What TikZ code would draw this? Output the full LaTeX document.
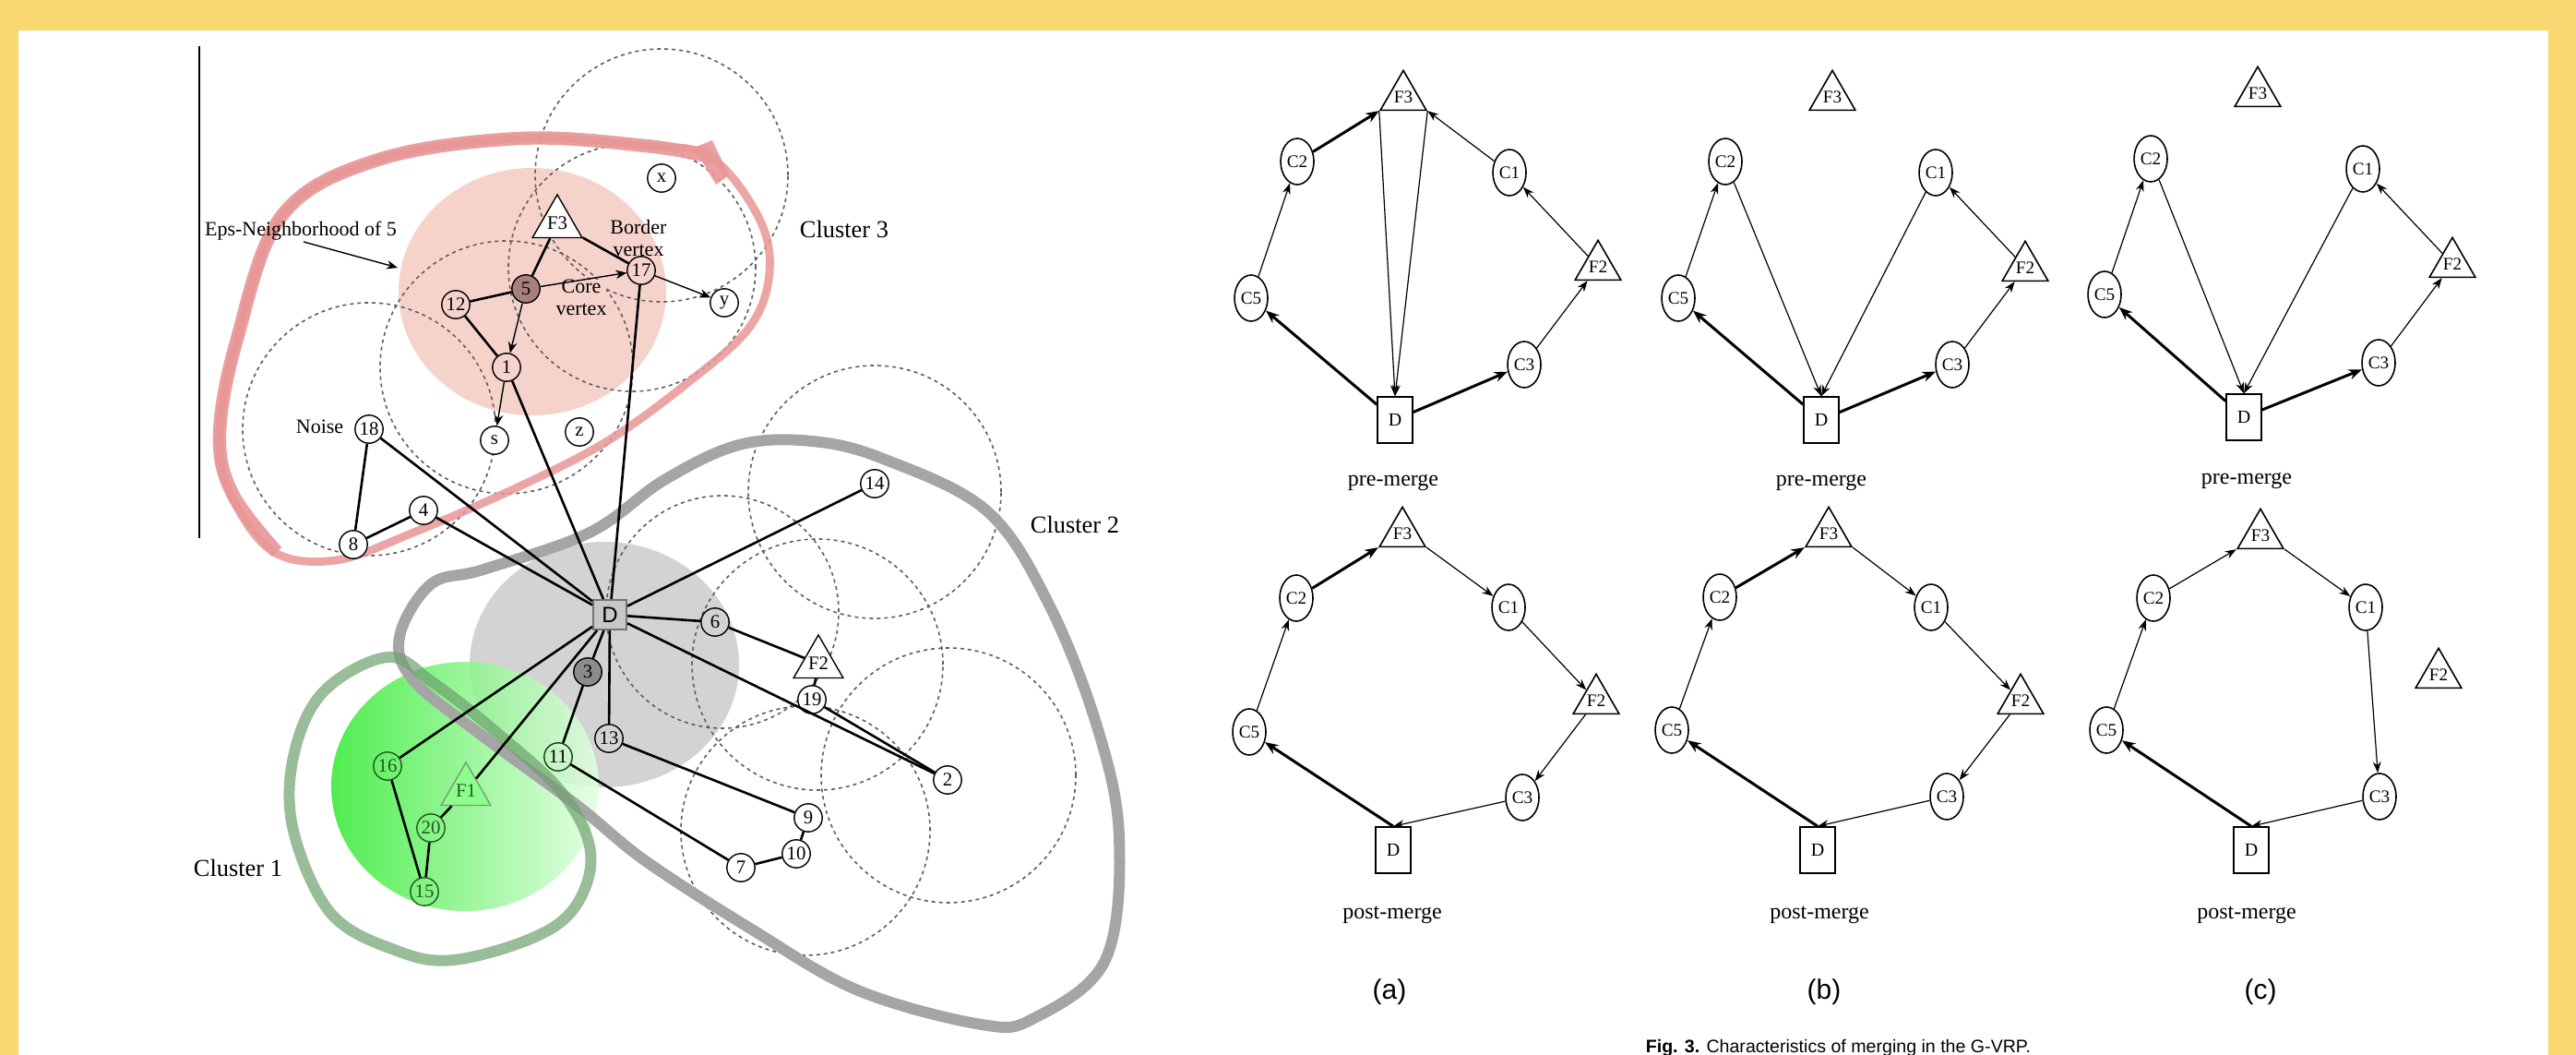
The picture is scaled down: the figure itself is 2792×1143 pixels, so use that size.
\documentclass[tikz,border=0pt]{standalone}
\usepackage{fontspec}
\setmainfont{Liberation Serif}
\newfontfamily\sansf{Liberation Sans}
\usetikzlibrary{shapes.geometric,arrows.meta}
\definecolor{ybord}{RGB}{249,215,113}
\definecolor{pinkdisc}{RGB}{245,211,203}
\definecolor{pinkline}{RGB}{232,150,150}
\definecolor{graydisc}{RGB}{211,211,211}
\definecolor{grayline}{RGB}{165,165,165}
\definecolor{greenline}{RGB}{110,160,110}
\definecolor{dgreen}{RGB}{30,90,30}
\definecolor{core5}{RGB}{168,128,122}
\definecolor{core3}{RGB}{140,140,140}
\definecolor{dashc}{RGB}{95,95,95}
\definecolor{gstrong}{RGB}{50,235,50}
\definecolor{glight}{RGB}{225,255,225}
\begin{document}
\begin{tikzpicture}[x=0.25pt,y=-0.25pt,
 vtx/.style={circle,draw,line width=0.35pt,minimum size=7.6pt,inner sep=0pt,fill=white,font=\fontsize{5.2pt}{5.2pt}\selectfont},
 gvtx/.style={vtx,draw=dgreen,text=dgreen,fill=none},
 ltri/.style={regular polygon,regular polygon sides=3,draw,line width=0.35pt,minimum size=10pt,inner sep=0pt,font=\fontsize{5.2pt}{5.2pt}\selectfont,fill=white},
 ldep/.style={rectangle,draw=black!55,fill=black!22,line width=0.5pt,minimum width=9pt,minimum height=8pt,inner sep=0pt,font=\sansf\fontsize{6pt}{6pt}\selectfont},
 lbl/.style={font=\fontsize{5.5pt}{6pt}\selectfont,inner sep=0pt},
 clbl/.style={font=\fontsize{6.6pt}{7pt}\selectfont,inner sep=0pt},
 ledge/.style={line width=0.65pt},
 larr/.style={line width=0.35pt,-{Stealth[length=3pt,width=2.4pt]}},
 dcirc/.style={draw=dashc,line width=0.4pt,dash pattern=on 1pt off 1pt},
 rc/.style={ellipse,draw,line width=0.4pt,minimum width=9pt,minimum height=12.5pt,inner sep=0pt,font=\fontsize{4.8pt}{5pt}\selectfont},
 rt/.style={regular polygon,regular polygon sides=3,draw,line width=0.4pt,minimum size=13pt,inner sep=0pt,font=\fontsize{4.8pt}{5pt}\selectfont},
 rd/.style={rectangle,draw,line width=0.4pt,minimum width=9.5pt,minimum height=12.5pt,inner sep=0pt,font=\fontsize{5pt}{5pt}\selectfont},
 tn/.style={line width=0.3pt,-{Stealth[length=3pt,width=2.2pt]}},
 tk/.style={line width=0.75pt,-{Stealth[length=3.6pt,width=2.8pt]}},
 mlbl/.style={font=\fontsize{6pt}{6pt}\selectfont,inner sep=0pt},
 plbl/.style={font=\sansf\fontsize{7.5pt}{8pt}\selectfont,inner sep=0pt}]
\useasboundingbox (0,0) rectangle (2792,1143);
\fill[white] (0,0) rectangle (2792,1143);
\fill[ybord] (0,0) rectangle (2792,33);
\fill[ybord] (0,0) rectangle (20,1143);
\fill[ybord] (2762,0) rectangle (2792,1143);

% ---------------- left figure ----------------
\draw[line width=0.5pt] (216,50) -- (216,583);
% discs
\fill[pinkdisc] (577,316) ellipse [x radius=36.25pt, y radius=33.5pt];
\fill[graydisc] (655,720) ellipse [x radius=36.5pt, y radius=33.25pt];
\shade[left color=gstrong,right color=glight,opacity=0.85] (504,852) ellipse [x radius=36.25pt, y radius=33.75pt];
% eps circles
\draw[dcirc] (717,190) circle [radius=34.25pt];
\draw[dcirc] (685,290) circle [radius=33.5pt];
\draw[dcirc] (549,398) circle [radius=34.25pt];
\draw[dcirc] (400,465) circle [radius=34.25pt];
\draw[dcirc] (948,533) circle [radius=34.25pt];
\draw[dcirc] (783,663) circle [radius=31.5pt];
\draw[dcirc] (886,720) circle [radius=34pt];
\draw[dcirc] (1028,840) circle [radius=34.5pt];
\draw[dcirc] (873,900) circle [radius=33.75pt];
% cluster outlines
\draw[pinkline,line width=2.2pt,opacity=0.85] plot[smooth cycle,tension=0.6] coordinates {(238,470) (257,367) (306,233) (410,173) (563,150) (700,158) (770,170) (822,235) (834,295) (812,355) (745,415) (658,478) (563,527) (448,577) (364,607) (295,597) (250,535)};
\draw[pinkline,line width=3.6pt,opacity=0.9] plot[smooth,tension=0.6] coordinates {(300,598) (252,535) (238,470) (257,367) (306,233) (410,173) (563,150) (700,158) (770,170)};
\fill[pinkline,opacity=0.9] (752,160) -- (772,152) -- (790,190) -- (776,200) -- cycle;
\draw[grayline,line width=3pt] plot[smooth cycle,tension=0.6] coordinates {(433,690) (467,633) (524,617) (639,577) (720,520) (801,482) (880,478) (957,497) (1069,553) (1136,653) (1189,787) (1213,907) (1198,1040) (1121,1103) (1064,1110) (930,1073) (815,1007) (700,933) (626,873) (520,795) (448,737)};
\draw[greenline,line width=3pt,opacity=0.7] plot[smooth cycle,tension=0.6] coordinates {(420,712) (350,750) (318,820) (318,900) (359,990) (430,1030) (492,1040) (580,1015) (625,980) (640,923) (610,860) (540,795) (470,740)};
% nodes
\node[ltri] (F3) at (604,242) {F3};
\node[vtx,fill=pinkdisc] (n17) at (695,293) {17};
\node[vtx,fill=core5] (n5) at (570,313) {5};
\node[vtx,fill=pinkdisc] (n12) at (494,330) {12};
\node[vtx,fill=pinkdisc] (n1) at (549,398) {1};
\node[vtx] (nx) at (717,193) {x};
\node[vtx] (ny) at (785,328) {y};
\node[vtx] (ns) at (536,477) {s};
\node[vtx] (nz) at (628,468) {z};
\node[vtx] (n18) at (400,465) {18};
\node[vtx] (n4) at (459,553) {4};
\node[vtx] (n8) at (383,590) {8};
\node[ldep] (LD) at (661,666) {D};
\node[vtx,fill=core3] (n3) at (637,728) {3};
\node[vtx,fill=graydisc] (n13) at (660,800) {13};
\node[vtx,fill=none,draw=dgreen!70!black] (n11) at (605,820) {11};
\node[gvtx] (n16) at (420,830) {16};
\node[ltri,draw=dgreen!60,fill=green!45!white,text=dgreen] (F1) at (505,857) {F1};
\node[gvtx] (n20) at (467,897) {20};
\node[gvtx] (n15) at (460,966) {15};
\node[vtx,fill=graydisc] (n6) at (775,674) {6};
\node[vtx] (n14) at (948,524) {14};
\node[ltri] (F2) at (887,719) {F2};
\node[vtx] (n19) at (880,758) {19};
\node[vtx] (n2) at (1027,845) {2};
\node[vtx] (n9) at (876,886) {9};
\node[vtx] (n10) at (863,925) {10};
\node[vtx] (n7) at (803,940) {7};
% labels
\node[lbl] (eps) at (326,250) {Eps-Neighborhood of 5};
\coordinate (epsend) at (431,290);
\draw[larr] (329,262) -- (epsend);
\node[lbl,align=center] (bv) at (692,258) {Border\\vertex};
\node[lbl,align=center,fill=pinkdisc] (cv) at (630,322) {Core\\vertex};
\node[clbl] (c3) at (915,248) {Cluster 3};
\node[clbl] (c2) at (1165,568) {Cluster 2};
\node[clbl] (c1) at (258,940) {Cluster 1};
\node[lbl,anchor=east] (noise) at (373,462) {Noise};
% edges
\draw[ledge] (F3) -- (n5);
\draw[ledge] (F3) -- (n17);
\draw[ledge] (n5) -- (n12);
\draw[ledge] (n12) -- (n1);
\draw[ledge] (n1) -- (LD);
\draw[ledge] (n17) -- (LD);
\draw[ledge] (n18) -- (LD);
\draw[ledge] (n18) -- (n8);
\draw[ledge] (n8) -- (n4);
\draw[ledge] (n4) -- (LD);
\draw[ledge] (LD) -- (n14);
\draw[ledge] (LD) -- (n6);
\draw[ledge] (n6) -- (F2);
\draw[ledge] (F2) -- (n19);
\draw[ledge] (n19) -- (n2);
\draw[ledge] (LD) -- (n2);
\draw[ledge] (LD) -- (n3);
\draw[ledge] (n3) -- (n11);
\draw[ledge] (LD) -- (n13);
\draw[ledge] (n13) -- (n9);
\draw[ledge] (n9) -- (n10);
\draw[ledge] (n10) -- (n7);
\draw[ledge] (n7) -- (n11);
\draw[ledge] (LD) -- (n16);
\draw[ledge] (n16) -- (n15);
\draw[ledge] (n15) -- (n20);
\draw[ledge] (n20) -- (F1);
\draw[ledge] (F1) -- (LD);
\draw[larr] (n5) -- (n1);
\draw[larr] (n5) -- (n17);
\draw[larr] (n17) -- (ny);
\draw[larr] (n1) -- (ns);

% ---------------- right figure ----------------
% (a) pre
\node[rt] (aF3) at (1521,105) {F3};
\node[rc] (aC2) at (1406,175) {C2};
\node[rc] (aC1) at (1636,187) {C1};
\node[rt] (aF2) at (1732,289) {F2};
\node[rc] (aC5) at (1356,323) {C5};
\node[rc] (aC3) at (1652,395) {C3};
\node[rd] (aD) at (1512,455) {D};
\node[mlbl] (aL) at (1510,523) {pre-merge};
\draw[tn] (aC5) -- (aC2);
\draw[tk] (aC2) -- (aF3.corner 2);
\draw[tn] (aC1) -- (aF3.corner 3);
\draw[tn] (aF2) -- (aC1);
\draw[tn] (aC3) -- (aF2);
\draw[tk] (aD) -- (aC3);
\draw[tk] (aD) -- (aC5);
\draw[tn] (aF3.corner 2) -- (aD.north);
\draw[tn] (aF3.corner 3) -- (aD.north);
% (b) pre
\node[rt] (bF3) at (1986,105) {F3};
\node[rc] (bC2) at (1870,175) {C2};
\node[rc] (bC1) at (2098,187) {C1};
\node[rt] (bF2) at (2195,290) {F2};
\node[rc] (bC5) at (1819,323) {C5};
\node[rc] (bC3) at (2116,395) {C3};
\node[rd] (bD) at (1974,455) {D};
\node[mlbl] (bL) at (1974,523) {pre-merge};
\draw[tn] (bC5) -- (bC2);
\draw[tn] (bC2) -- (bD.north);
\draw[tn] (bC1) -- (bD.north);
\draw[tk] (bD) -- (bC5);
\draw[tk] (bD) -- (bC3);
\draw[tn] (bC3) -- (bF2);
\draw[tn] (bF2) -- (bC1);
% (c) pre
\node[rt] (cF3) at (2447,101) {F3};
\node[rc] (cC2) at (2331,172) {C2};
\node[rc] (cC1) at (2561,183) {C1};
\node[rt] (cF2) at (2658,286) {F2};
\node[rc] (cC5) at (2281,319) {C5};
\node[rc] (cC3) at (2578,393) {C3};
\node[rd] (cD) at (2432,452) {D};
\node[mlbl] (cL) at (2435,521) {pre-merge};
\draw[tn] (cC5) -- (cC2);
\draw[tn] (cC2) -- (cD.north);
\draw[tn] (cC1) -- (cD.north);
\draw[tk] (cD) -- (cC5);
\draw[tk] (cD) -- (cC3);
\draw[tn] (cC3) -- (cF2);
\draw[tn] (cF2) -- (cC1);
% (a) post
\node[rt] (pF3) at (1520,578) {F3};
\node[rc] (pC2) at (1405,648) {C2};
\node[rc] (pC1) at (1635,658) {C1};
\node[rt] (pF2) at (1730,759) {F2};
\node[rc] (pC5) at (1354,793) {C5};
\node[rc] (pC3) at (1650,864) {C3};
\node[rd] (pD) at (1510,921) {D};
\node[mlbl] (pL) at (1509,991) {post-merge};
\node[plbl] (pa) at (1506,1075) {(a)};
\draw[tn] (pC5) -- (pC2);
\draw[tk] (pC2) -- (pF3.corner 2);
\draw[tn] (pF3.corner 3) -- (pC1);
\draw[tn] (pC1) -- (pF2);
\draw[tn] (pF2) -- (pC3);
\draw[tn] (pC3) -- (pD.north);
\draw[tk] (pD.north) -- (pC5);
% (b) post
\node[rt] (qF3) at (1982,578) {F3};
\node[rc] (qC2) at (1864,647) {C2};
\node[rc] (qC1) at (2093,658) {C1};
\node[rt] (qF2) at (2190,759) {F2};
\node[rc] (qC5) at (1812,791) {C5};
\node[rc] (qC3) at (2110,863) {C3};
\node[rd] (qD) at (1970,921) {D};
\node[mlbl] (qL) at (1972,991) {post-merge};
\node[plbl] (qb) at (1977,1075) {(b)};
\draw[tn] (qC5) -- (qC2);
\draw[tk] (qC2) -- (qF3.corner 2);
\draw[tn] (qF3.corner 3) -- (qC1);
\draw[tn] (qC1) -- (qF2);
\draw[tn] (qF2) -- (qC3);
\draw[tn] (qC3) -- (qD.north);
\draw[tk] (qD.north) -- (qC5);
% (c) post
\node[rt] (rF3) at (2450,580) {F3};
\node[rc] (rC2) at (2334,648) {C2};
\node[rc] (rC1) at (2564,658) {C1};
\node[rt] (rF2) at (2643,731) {F2};
\node[rc] (rC5) at (2283,791) {C5};
\node[rc] (rC3) at (2579,863) {C3};
\node[rd] (rD) at (2440,921) {D};
\node[mlbl] (rL) at (2435,991) {post-merge};
\node[plbl] (rcl) at (2450,1075) {(c)};
\draw[tn] (rC5) -- (rC2);
\draw[tn] (rC2) -- (rF3.corner 2);
\draw[tn] (rF3.corner 3) -- (rC1);
\draw[tn] (rC1) -- (rC3);
\draw[tn] (rC3) -- (rD.north);
\draw[tk] (rD.north) -- (rC5);
% caption
\node[anchor=base west,inner sep=0pt,font=\sansf\fontsize{4.9pt}{5pt}\selectfont] (cap) at (1783,1140) {\textbf{Fig. 3.} Characteristics of merging in the G-VRP.};
\end{tikzpicture}
\end{document}
